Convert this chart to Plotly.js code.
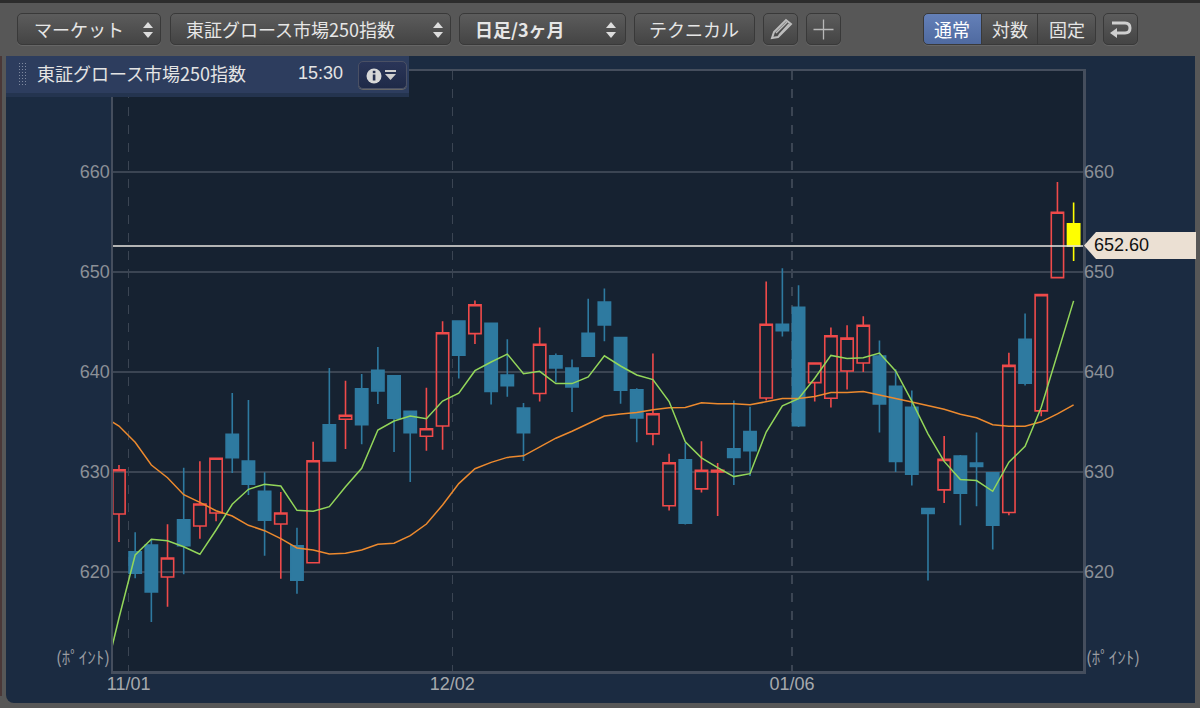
<!DOCTYPE html>
<html lang="ja"><head><meta charset="utf-8">
<script src="https://cdn.plot.ly/plotly-3.0.1.min.js"></script>
<style>
html,body{margin:0;padding:0;width:1200px;height:708px;overflow:hidden;background:#575757;}
#topstrip{position:absolute;left:0;top:0;width:1200px;height:3px;background:#2c2c2c;}
#leftstrip{position:absolute;left:0;top:56px;width:2px;height:640px;background:#4a3838;}
#frame{position:absolute;left:6px;top:56px;width:1189px;height:647px;background:#1b2b41;border-bottom-left-radius:8px;}
#chart{position:absolute;left:0;top:0;width:1200px;height:708px;}
.ui{position:absolute;font-family:"Noto Sans CJK JP","Noto Sans",sans-serif;color:#e4e4e4;font-size:18px;}
.btn{position:absolute;top:13px;height:32px;line-height:31px;box-sizing:border-box;border:1px solid #393939;border-radius:5px;background:linear-gradient(#5c5c5c,#444444);text-align:left;white-space:nowrap;color:#e6e6e6;font-size:18px;font-family:"Noto Sans CJK JP",sans-serif;box-shadow:0 1px 0 #666;}
.btn span.t{position:absolute;top:0;}
.btn svg{position:absolute;left:0;top:0;}
.arrow{position:absolute;top:8px;width:0;height:0;border-left:5px solid transparent;border-right:5px solid transparent;border-bottom:6px solid #ddd;}
.arrow.d{top:18px;border-bottom:0;border-top:6px solid #ddd;}
#panel{position:absolute;left:6px;top:56px;width:403px;height:37px;background:#2d3d5e;border-bottom:4px solid #24344f;}
#grip{position:absolute;left:18px;top:62px;width:9px;height:24px;background-image:radial-gradient(#7f8aa0 0.8px,transparent 1px);background-size:3px 3px;}
#tag{position:absolute;left:1084px;top:232px;width:112px;height:27px;background:#ebe0d3;clip-path:polygon(0 50%,12px 0,100% 0,100% 100%,12px 100%);font:18px "Liberation Sans",sans-serif;color:#111;line-height:27px;text-indent:10px;}
</style></head><body>
<div id="topstrip"></div><div id="leftstrip"></div>
<div id="frame"></div>
<div id="chart"></div>

<div class="btn" style="left:17px;width:144px"><span class="t" style="left:16px">マーケット</span><i class="arrow" style="left:125px"></i><i class="arrow d" style="left:125px"></i></div>
<div class="btn" style="left:170px;width:281px"><span class="t" style="left:15px">東証グロース市場250指数</span><i class="arrow" style="left:262px"></i><i class="arrow d" style="left:262px"></i></div>
<div class="btn" style="left:459px;width:167px;font-weight:700"><span class="t" style="left:15px">日足/3ヶ月</span><i class="arrow" style="left:146px"></i><i class="arrow d" style="left:146px"></i></div>
<div class="btn" style="left:634px;width:121px"><span class="t" style="left:14px">テクニカル</span></div>
<div class="btn" style="left:763px;width:35px"><svg width="33" height="30"><path d="M8 24 L10 18 L22 6 L27 10 L14 23 Z" fill="none" stroke="#bdbdbd" stroke-width="2"/><path d="M12 19 L23 8 M15 21 L25 10" stroke="#bdbdbd" stroke-width="1.5"/></svg></div>
<div class="btn" style="left:806px;width:35px"><svg width="33" height="30"><path d="M6.5 15.5 H26.5 M16.5 5.5 V25.5" stroke="#b8b8b8" stroke-width="1.3"/></svg></div>
<div class="btn" style="left:923px;width:59px;background:linear-gradient(#6480b8,#4f6aa0);border-radius:5px 0 0 5px;color:#fff"><span class="t" style="left:10px">通常</span></div>
<div class="btn" style="left:981px;width:57px;border-radius:0"><span class="t" style="left:10px">対数</span></div>
<div class="btn" style="left:1037px;width:59px;border-radius:0 5px 5px 0"><span class="t" style="left:11px">固定</span></div>
<div class="btn" style="left:1103px;width:35px"><svg width="33" height="30"><path d="M8 9 H21 Q26 9 26 14 Q26 19 21 19 H12" fill="none" stroke="#cfcfcf" stroke-width="3"/><path d="M13 14 L6 19 L13 24 Z" fill="#cfcfcf"/></svg></div>

<div id="panel"></div><div id="grip"></div>
<div class="ui" style="left:37px;top:60px;line-height:26px">東証グロース市場250指数</div>
<div class="ui" style="left:298px;top:60px;font:18px/26px 'Liberation Sans',sans-serif">15:30</div>
<div class="btn" style="left:358px;top:61px;width:49px;height:28px;background:linear-gradient(#2a3558,#1f2a48);border-color:#4a5064"><svg width="47" height="26"><circle cx="15" cy="14" r="7.5" fill="#d8d8d8"/><rect x="13.8" y="12.5" width="2.6" height="6" fill="#26304f"/><rect x="13.8" y="8.8" width="2.6" height="2.4" fill="#26304f"/><rect x="26" y="8" width="11" height="2" fill="#cfcfcf"/><path d="M26 12 H37 L31.5 18 Z" fill="#cfcfcf"/></svg></div>
<div id="tag">652.60</div>

<script>
const tickLabels = ['11/01','12/02','01/06'];
const tickPositions = [0.6,20.6,41.6];
const yTicks = [620,630,640,650,660];
const lastPrice = 652.6;

// open, high, low, close; index = trading day
const candleOpen = [625.8,622.03,622.7,619.5,625.23,624.6,625.9,633.77,631.1,628.07,624.8,622.63,620.93,634.73,635.27,638.33,640.17,639.63,636.07,633.57,634.6,
 645.1,643.84,644.87,639.7,636.39,637.85,641.62,640.4,643.87,646.99,643.44,638.21,633.81,626.62,631.23,628.31,630.0,632.32,634.04,
 637.4,644.78,646.48,638.94,637.38,640.1,640.9,641.59,638.57,636.48,626.35,628.21,631.59,630.9,629.93,625.95,643.26,636.11,649.44];
const candleHigh = [630.7,623.97,623.2,624.77,630.43,631.07,631.37,637.9,637.2,629.97,628.0,624.43,633.03,640.4,639.13,639.8,642.5,639.63,636.07,638.43,645.07,
 645.1,647.15,644.87,643.28,636.89,644.44,641.85,641.26,647.32,648.34,643.44,638.38,641.85,631.82,632.9,633.08,630.9,637.15,636.52,
 649.05,650.37,648.67,640.9,644.45,644.68,645.58,643.16,640.27,638.14,626.35,633.59,631.69,633.95,629.93,641.93,645.85,647.74,659.0];
const candleLow = [623.0,619.37,615.0,616.53,619.77,623.33,625.07,629.9,627.7,621.63,619.33,617.83,620.93,631.1,632.3,632.77,636.8,632.0,629.0,632.13,632.23,
 639.34,642.81,636.75,637.52,631.09,637.05,638.97,635.99,641.5,643.08,636.82,632.98,632.68,626.16,624.74,627.95,625.6,628.71,629.6,
 637.15,643.55,634.49,637.04,636.45,638.24,640.0,633.95,630.0,628.64,619.14,626.91,624.68,626.58,622.26,625.68,638.64,635.58,649.44];
const candleClose = [630.23,619.87,618.0,621.4,622.63,626.8,631.37,631.43,628.77,625.17,625.9,619.17,631.13,631.1,635.67,634.73,638.1,635.37,633.93,634.33,643.93,
 641.69,646.72,638.05,638.64,633.94,642.78,640.4,638.51,641.59,644.7,638.18,635.4,635.83,630.93,624.87,630.17,630.17,631.46,632.12,
 644.78,644.12,634.62,640.9,643.62,643.39,644.68,636.81,631.06,629.77,625.85,631.26,627.87,630.56,624.68,640.66,638.87,647.74,655.98];
const liveOpen = [654.82], liveHigh = [656.94], liveLow = [651.1], liveClose = [652.6];

// moving averages, starting one day before the first candle (clipped by the plot edge)
const maShort = [608.7,615.4,621.7,623.27,623.13,622.53,621.77,624.2,626.77,628.27,628.77,628.6,626.17,626.07,626.53,628.53,630.37,634.2,635.1,635.6,635.33,637.1,
 637.88,640.13,641.0,641.79,639.83,640.07,638.84,638.84,639.5,641.62,640.6,639.7,639.24,637.05,633.01,631.42,630.43,629.54,629.83,634.0,
 636.61,637.34,639.37,641.66,641.36,641.43,641.89,640.1,637.08,633.82,631.06,629.24,629.14,628.07,630.99,632.56,636.48,641.79,647.11];
const maLong = [635.6,634.6,632.97,630.7,629.43,627.73,626.97,626.13,625.6,624.67,624.13,623.33,622.4,622.2,621.8,621.87,622.2,622.77,622.87,623.63,624.8,626.7,
 628.84,630.33,630.96,631.46,631.62,632.48,633.38,634.07,634.87,635.6,635.79,635.96,636.23,636.42,636.46,636.92,636.82,636.82,636.72,637.05,
 637.34,637.34,637.54,637.94,637.94,638.04,637.67,637.34,637.01,636.68,636.28,635.78,635.42,634.72,634.58,634.58,635.02,635.81,636.71];

const days = candleOpen.map((_,i)=>i);
const maDays = maShort.map((_,i)=>i-1);
const xRange = [-0.37,59.58], yRange = [610.1,670.1];

const RED='#ef4a4a', BLUE='#2e7aa0', YEL='#ffff00', GRID='#3b4553', FRAME='#454e5d', TXT='#8c9097';
const traces = [
 {type:'candlestick',x:days,open:candleOpen,high:candleHigh,low:candleLow,close:candleClose,
  increasing:{line:{color:RED,width:1.6},fillcolor:'rgba(0,0,0,0)'},
  decreasing:{line:{color:BLUE,width:1.6},fillcolor:BLUE},whiskerwidth:0,hoverinfo:'skip',showlegend:false},
 {type:'candlestick',x:[59],open:liveOpen,high:liveHigh,low:liveLow,close:liveClose,
  increasing:{line:{color:YEL,width:1.6},fillcolor:YEL},
  decreasing:{line:{color:YEL,width:1.6},fillcolor:YEL},whiskerwidth:0,hoverinfo:'skip',showlegend:false},
 {type:'scatter',mode:'lines',x:maDays,y:maLong,line:{color:'#ed8a2e',width:1.5},hoverinfo:'skip',showlegend:false},
 {type:'scatter',mode:'lines',x:maDays,y:maShort,line:{color:'#93d65a',width:1.5},hoverinfo:'skip',showlegend:false},
 {type:'scatter',mode:'lines',x:xRange,y:[lastPrice,lastPrice],yaxis:'y2',line:{color:'#e8e6e0',width:1.6},hoverinfo:'skip',showlegend:false}
];
const yCommon = {range:yRange,tickvals:yTicks,ticktext:yTicks.map(String),ticks:'',
  tickfont:{family:'Liberation Sans',size:18,color:TXT},zeroline:false,fixedrange:true};
const layout = {
 width:1200,height:708,autosize:false,boxgap:0.24,boxgroupgap:0,
 margin:{l:113,r:117,t:71,b:37,pad:0},
 paper_bgcolor:'rgba(0,0,0,0)',plot_bgcolor:'#162231',
 showlegend:false,
 xaxis:{type:'linear',range:xRange,tickvals:tickPositions,ticktext:tickLabels,ticks:'',ticklabelstandoff:-5,
   showgrid:true,gridcolor:GRID,griddash:'dash',gridwidth:1.5,
   tickfont:{family:'Liberation Sans',size:18,color:'#a6a9ad'},
   showline:true,linecolor:FRAME,linewidth:2.5,mirror:true,zeroline:false,rangeslider:{visible:false},fixedrange:true},
 yaxis:Object.assign({},yCommon,{ticklabelstandoff:-3,showgrid:true,gridcolor:GRID,gridwidth:1.5,showline:true,linecolor:FRAME,linewidth:2.5,mirror:true}),
 yaxis2:Object.assign({},yCommon,{ticklabelstandoff:0,overlaying:'y',side:'right',showgrid:false,showline:false}),
 annotations:[
  {xref:'paper',yref:'paper',x:0,y:0,xanchor:'right',yanchor:'bottom',xshift:-1,yshift:0,showarrow:false,text:'(ﾎﾟｲﾝﾄ)',font:{family:'Noto Sans CJK JP',size:17,color:'#9a9da2'}},
  {xref:'paper',yref:'paper',x:1,y:0,xanchor:'left',yanchor:'bottom',xshift:1,yshift:0,showarrow:false,text:'(ﾎﾟｲﾝﾄ)',font:{family:'Noto Sans CJK JP',size:17,color:'#9a9da2'}}
 ]
};
Plotly.newPlot('chart',traces,layout,{displayModeBar:false,staticPlot:true});
</script>
</body></html>
